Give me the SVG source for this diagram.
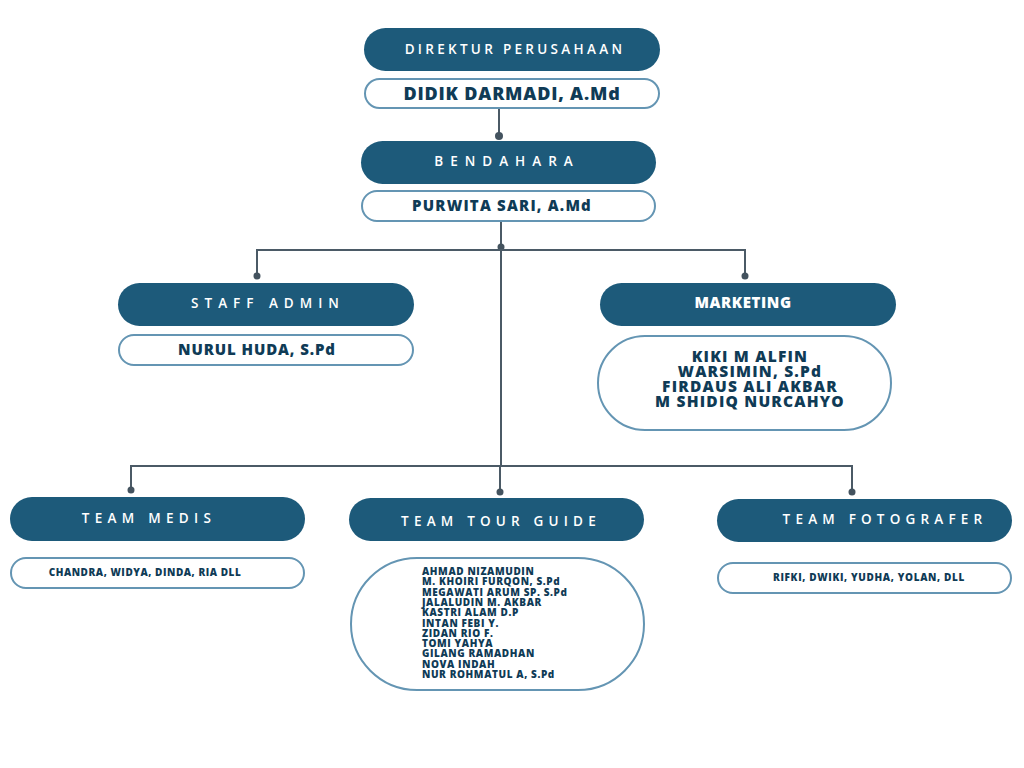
<svg xmlns="http://www.w3.org/2000/svg" width="1024" height="768" viewBox="0 0 1024 768">
<style>
.hd{fill:#1d5a7a}
.nm{fill:#fff;stroke:#6495b3;stroke-width:2}
.ht{fill:#fff;font-family:"Open Sans","Noto Sans",sans-serif;font-size:13.5px;font-weight:600;text-anchor:middle}
.nt{fill:#0f3b56;font-family:"Open Sans","Noto Sans",sans-serif;font-weight:800;text-anchor:middle}
.ln{stroke:#4b5a66;stroke-width:2;fill:none}
.dot{fill:#44535f}
</style>
<rect width="1024" height="768" fill="#fff"/>
<g id="connectors">
<path class="ln" d="M499 108V136"/>
<circle class="dot" cx="499" cy="136" r="4"/>
<path class="ln" d="M501 221V466"/>
<circle class="dot" cx="501" cy="247" r="3.5"/>
<path class="ln" d="M257 275V250H745V275"/>
<circle class="dot" cx="257" cy="276" r="3.5"/>
<circle class="dot" cx="745" cy="276" r="3.5"/>
<path class="ln" d="M131 490V466H852V492"/>
<path class="ln" d="M500 466V492"/>
<circle class="dot" cx="131" cy="490" r="3.5"/>
<circle class="dot" cx="500" cy="492" r="3.5"/>
<circle class="dot" cx="852" cy="492" r="3.5"/>
</g>
<g id="direktur">
<rect class="hd" x="364" y="28" width="296" height="43" rx="21.5"/>
<text class="ht" x="515" y="54" letter-spacing="3.3">DIREKTUR PERUSAHAAN</text>
<rect class="nm" x="365" y="79" width="294" height="29" rx="14.5"/>
<text class="nt" x="512" y="100" font-size="18" letter-spacing="0.8">DIDIK DARMADI, A.Md</text>
</g>
<g id="bendahara">
<rect class="hd" x="361" y="141" width="295" height="43" rx="21.5"/>
<text class="ht" x="507" y="166" letter-spacing="7">BENDAHARA</text>
<rect class="nm" x="362" y="191" width="293" height="30" rx="15"/>
<text class="nt" x="502" y="211" font-size="15" letter-spacing="1.2">PURWITA SARI, A.Md</text>
</g>
<g id="staff-admin">
<rect class="hd" x="118" y="283" width="296" height="43" rx="21.5"/>
<text class="ht" x="268" y="308" letter-spacing="6">STAFF ADMIN</text>
<rect class="nm" x="119" y="335" width="294" height="30" rx="15"/>
<text class="nt" x="257" y="355" font-size="15" letter-spacing="0.9">NURUL HUDA, S.Pd</text>
</g>
<g id="marketing">
<rect class="hd" x="600" y="283" width="296" height="43" rx="21.5"/>
<text class="ht" x="743" y="308" style="font-size:15px;font-weight:800" letter-spacing="0.6">MARKETING</text>
<rect class="nm" x="598" y="336" width="293" height="94" rx="47"/>
<text class="nt" font-size="15.5" letter-spacing="1.2"><tspan x="750" y="362">KIKI M ALFIN</tspan><tspan x="750" y="377">WARSIMIN, S.Pd</tspan><tspan x="750" y="392">FIRDAUS ALI AKBAR</tspan><tspan x="750" y="407">M SHIDIQ NURCAHYO</tspan></text>
</g>
<g id="team-medis">
<rect class="hd" x="10" y="497" width="295" height="44" rx="22"/>
<text class="ht" x="149" y="523" letter-spacing="5.3">TEAM MEDIS</text>
<rect class="nm" x="11" y="558" width="293" height="30" rx="15"/>
<text class="nt" x="145" y="576" font-size="10" letter-spacing="0.55">CHANDRA, WIDYA, DINDA, RIA DLL</text>
</g>
<g id="team-tour-guide">
<rect class="hd" x="349" y="498" width="295" height="43" rx="21.5"/>
<text class="ht" x="501" y="526" letter-spacing="5.2">TEAM TOUR GUIDE</text>
<rect class="nm" x="351" y="558" width="293" height="132" rx="66"/>
<text class="nt" font-size="10" letter-spacing="0.6" style="text-anchor:start"><tspan x="422" y="575">AHMAD NIZAMUDIN</tspan><tspan x="422" y="585.3">M. KHOIRI FURQON, S.Pd</tspan><tspan x="422" y="595.6">MEGAWATI ARUM SP. S.Pd</tspan><tspan x="422" y="605.9">JALALUDIN M. AKBAR</tspan><tspan x="422" y="616.2">KASTRI ALAM D.P</tspan><tspan x="422" y="626.5">INTAN FEBI Y.</tspan><tspan x="422" y="636.8">ZIDAN RIO F.</tspan><tspan x="422" y="647.1">TOMI YAHYA</tspan><tspan x="422" y="657.4">GILANG RAMADHAN</tspan><tspan x="422" y="667.7">NOVA INDAH</tspan><tspan x="422" y="678">NUR ROHMATUL A, S.Pd</tspan></text>
</g>
<g id="team-fotografer">
<rect class="hd" x="717" y="499" width="295" height="43" rx="21.5"/>
<text class="ht" x="885" y="524" letter-spacing="5.2">TEAM FOTOGRAFER</text>
<rect class="nm" x="718" y="563" width="293" height="30" rx="15"/>
<text class="nt" x="869" y="581" font-size="10" letter-spacing="0.65">RIFKI, DWIKI, YUDHA, YOLAN, DLL</text>
</g>
</svg>
